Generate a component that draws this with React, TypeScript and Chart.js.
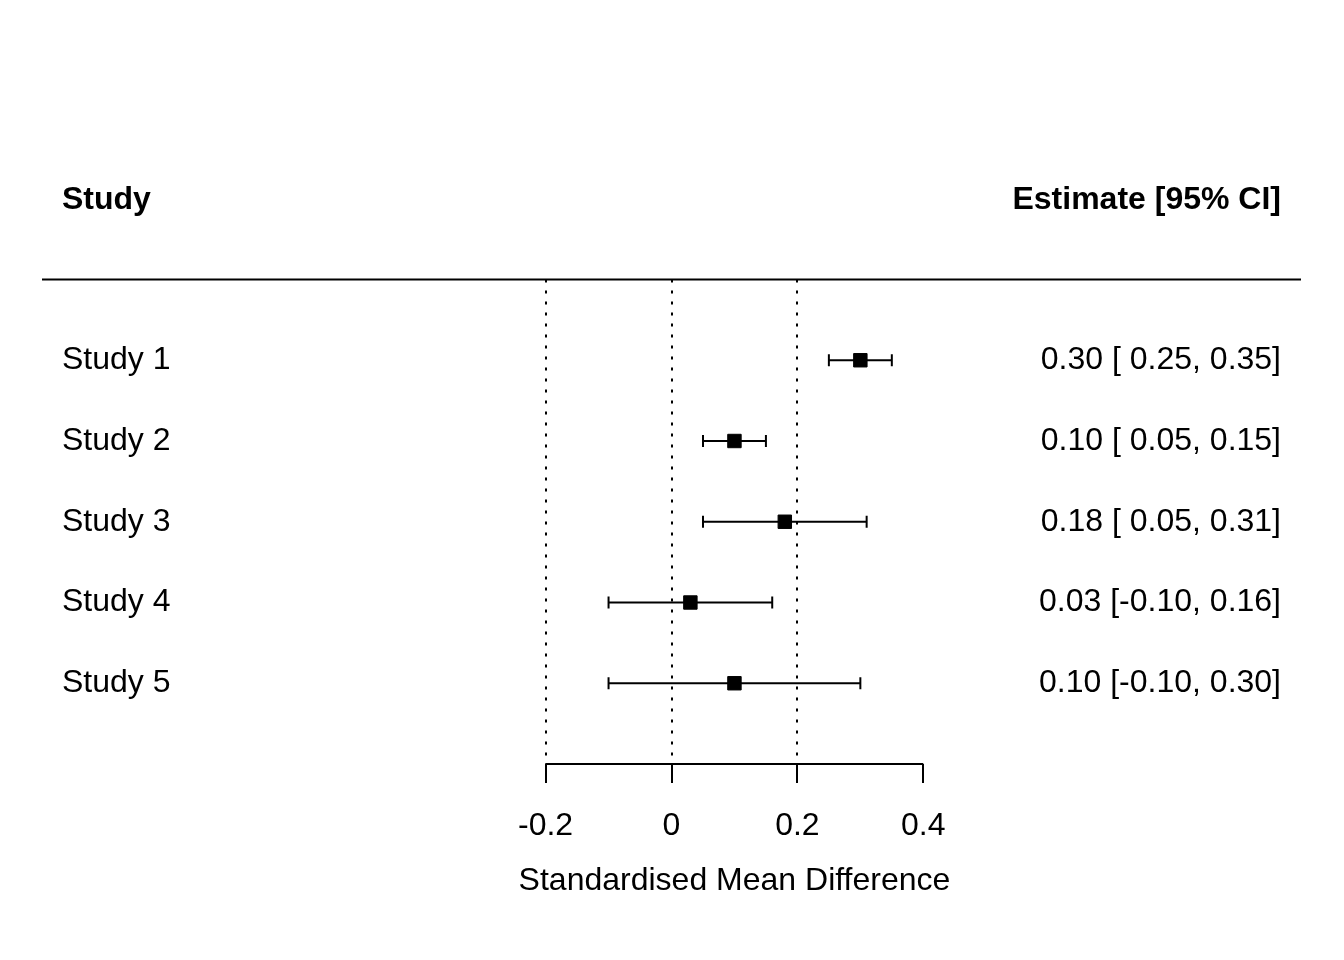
import React, { useEffect, useRef } from "react";
import { Chart, registerables } from "chart.js";

Chart.register(...registerables);

const studies = ["Study 1", "Study 2", "Study 3", "Study 4", "Study 5"];
const estimates = [0.3, 0.1, 0.18, 0.03, 0.1];
const lowerCI = [0.25, 0.05, 0.05, -0.1, -0.1];
const upperCI = [0.35, 0.15, 0.31, 0.16, 0.3];
const axisTicks = [-0.2, 0, 0.2, 0.4];
const axisTickLabels = ["-0.2", "0", "0.2", "0.4"];
const refLines = [-0.2, 0, 0.2];
const headerLeft = "Study";
const headerRight = "Estimate [95% CI]";
const xTitle = "Standardised Mean Difference";

const FONT = '"Liberation Sans", Arial, Helvetica, sans-serif';
const FS = 32;

const rowOf = (i: number) => studies.length - i;
const fmtCI = (v: number) => (v < 0 ? v.toFixed(2) : " " + v.toFixed(2));
const estLabels = studies.map(
  (_, i) => `${estimates[i].toFixed(2)} [${fmtCI(lowerCI[i])},${fmtCI(upperCI[i])}]`
);

const forestPlugin = {
  id: "forest",
  beforeDatasetsDraw(chart: any) {
    const { ctx, chartArea, scales } = chart;
    const xs = scales.x;
    const ys = scales.y;
    ctx.save();
    ctx.strokeStyle = "#000";
    // reference dotted lines
    ctx.lineWidth = 2;
    ctx.setLineDash([3, 8]);
    const yTop = ys.getPixelForValue(studies.length + 1);
    const yBot = ys.getPixelForValue(0);
    refLines.forEach((v) => {
      const px = Math.round(xs.getPixelForValue(v));
      ctx.beginPath();
      ctx.moveTo(px, yTop);
      ctx.lineTo(px, yBot);
      ctx.stroke();
    });
    ctx.setLineDash([]);
    // header separator
    ctx.lineWidth = 2;
    ctx.beginPath();
    ctx.moveTo(chartArea.left, yTop);
    ctx.lineTo(chartArea.right, yTop);
    ctx.stroke();
    // x axis
    const x0 = xs.getPixelForValue(axisTicks[0]);
    const x1 = xs.getPixelForValue(axisTicks[axisTicks.length - 1]);
    ctx.beginPath();
    ctx.moveTo(x0, yBot);
    ctx.lineTo(x1, yBot);
    ctx.stroke();
    axisTicks.forEach((v) => {
      const px = Math.round(xs.getPixelForValue(v));
      ctx.beginPath();
      ctx.moveTo(px, yBot);
      ctx.lineTo(px, yBot + 19);
      ctx.stroke();
    });
    ctx.fillStyle = "#000";
    ctx.font = `${FS}px ${FONT}`;
    ctx.textAlign = "center";
    ctx.textBaseline = "middle";
    axisTicks.forEach((v, i) => {
      ctx.fillText(axisTickLabels[i], xs.getPixelForValue(v), yBot + 62);
    });
    ctx.fillText(xTitle, (x0 + x1) / 2, yBot + 117);
    // headers
    const yHead = ys.getPixelForValue(studies.length + 2);
    ctx.font = `bold ${FS}px ${FONT}`;
    ctx.textAlign = "left";
    ctx.fillText(headerLeft, chartArea.left + 20, yHead + 1);
    ctx.textAlign = "right";
    ctx.fillText(headerRight, chartArea.right - 20, yHead + 1);
    // rows
    ctx.font = `${FS}px ${FONT}`;
    studies.forEach((s, i) => {
      const py = ys.getPixelForValue(rowOf(i));
      ctx.textAlign = "left";
      ctx.fillText(s, chartArea.left + 20, py);
      ctx.textAlign = "right";
      ctx.fillText(estLabels[i], chartArea.right - 20, py);
    });
    ctx.restore();
  },
};

export default function App() {
  const ref = useRef<HTMLCanvasElement>(null);
  useEffect(() => {
    if (!ref.current) return;
    const datasets: any[] = [
      {
        type: "scatter",
        data: studies.map((_, i) => ({ x: estimates[i], y: rowOf(i) })),
        pointStyle: "rect",
        pointRadius: 9.5,
        backgroundColor: "#000",
        borderColor: "#000",
        borderWidth: 1,
      },
      ...studies.map((_, i) => ({
        type: "line",
        data: [
          { x: lowerCI[i], y: rowOf(i) },
          { x: upperCI[i], y: rowOf(i) },
        ],
        borderColor: "#000",
        backgroundColor: "#000",
        borderWidth: 2,
        pointStyle: "line",
        pointRotation: 90,
        pointRadius: 6,
        pointBorderWidth: 2,
        pointBorderColor: "#000",
        fill: false,
        tension: 0,
      })),
    ];
    const chart = new Chart(ref.current, {
      type: "scatter",
      data: { datasets },
      options: {
        animation: false,
        responsive: false,
        layout: { padding: { left: 42, right: 43, top: 118, bottom: 196 } },
        scales: {
          x: { type: "linear", min: -1, max: 1, display: false },
          y: { type: "linear", min: 0, max: 8, display: false },
        },
        plugins: {
          legend: { display: false },
          tooltip: { enabled: false },
        },
      },
      plugins: [forestPlugin],
    } as any);
    return () => chart.destroy();
  }, []);
  return (
    <div style={{ position: "fixed", left: 0, top: 0, width: 1344, height: 960, background: "#fff" }}>
      <canvas ref={ref} width={1344} height={960} style={{ width: 1344, height: 960 }} />
    </div>
  );
}
